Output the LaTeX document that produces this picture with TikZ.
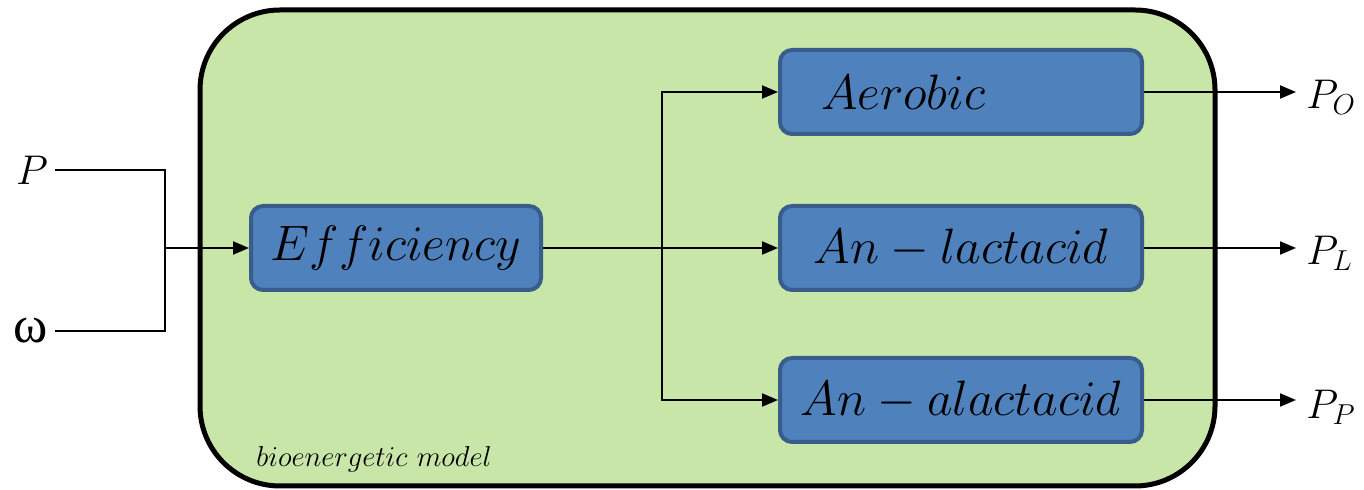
\documentclass[tikz,border=0pt]{standalone}
\usepackage{fontspec}
\newfontfamily\greekfont{Liberation Serif}
\usetikzlibrary{arrows.meta}
\definecolor{panelgreen}{RGB}{200,230,167}
\definecolor{boxblue}{RGB}{79,129,189}
\definecolor{boxedge}{RGB}{56,93,138}

\begin{document}
\begin{tikzpicture}[x=0.5pt,y=-0.5pt,
  block/.style={draw=boxedge, fill=boxblue, line width=2pt, rounded corners=6pt,
    minimum height=42pt, inner sep=0pt, font=\fontsize{24}{26}\selectfont},
  label/.style={font=\fontsize{21}{24}\selectfont},
  outlabel/.style={font=\fontsize{21}{24}\selectfont, inner sep=5pt},
  wire/.style={line width=1pt},
  flow/.style={wire, -{Triangle[length=8pt,width=6.5pt]}},
]
\useasboundingbox (0,0) rectangle (1364,490);

% bioenergetic model panel
\draw[line width=2.5pt, fill=panelgreen, rounded corners=40pt] (200,10) rectangle (1215,486);
\node[anchor=base west, font=\fontsize{15.5}{18}\selectfont, inner sep=0pt] (caption) at (256,467) {$bioenergetic\ model$};

% blocks
\node[block, minimum width=145pt] (eff) at (396,248) {$Efficiency$};
\node[block, minimum width=181pt, text width=140pt, align=left] (aer) at (961,92) {$Aerobic$};
\node[block, minimum width=181pt, font=\fontsize{25.5}{27}\selectfont] (lac) at (961,248) {$An-lactacid$};
\node[block, minimum width=181pt, font=\fontsize{25.5}{27}\selectfont] (alac) at (961,400) {$An-alactacid$};

% inputs
\node[label] (P) at (32,170) {$P$};
\node[font=\greekfont\fontsize{26}{28}\selectfont] (w) at (31,331) {ω};
\coordinate (join) at (165,248);
\draw[wire] (P.east) -| (join);
\draw[wire] (w.east) -| (join);
\draw[flow] (join) -- (eff.west);

% distribution to the energy systems
\coordinate (fork) at (662,248);
\draw[flow] (eff.east) -- (lac.west);
\draw[flow] (fork) |- (aer.west);
\draw[flow] (fork) |- (alac.west);

% outputs
\node[outlabel, anchor=west] (PO) at (1296,97) {$P_O$};
\node[outlabel, anchor=west] (PL) at (1296,253) {$P_L$};
\node[outlabel, anchor=west] (PP) at (1296,407) {$P_P$};
\draw[flow] (aer.east) -- (aer.east -| PO.west);
\draw[flow] (lac.east) -- (lac.east -| PL.west);
\draw[flow] (alac.east) -- (alac.east -| PP.west);
\end{tikzpicture}
\end{document}
